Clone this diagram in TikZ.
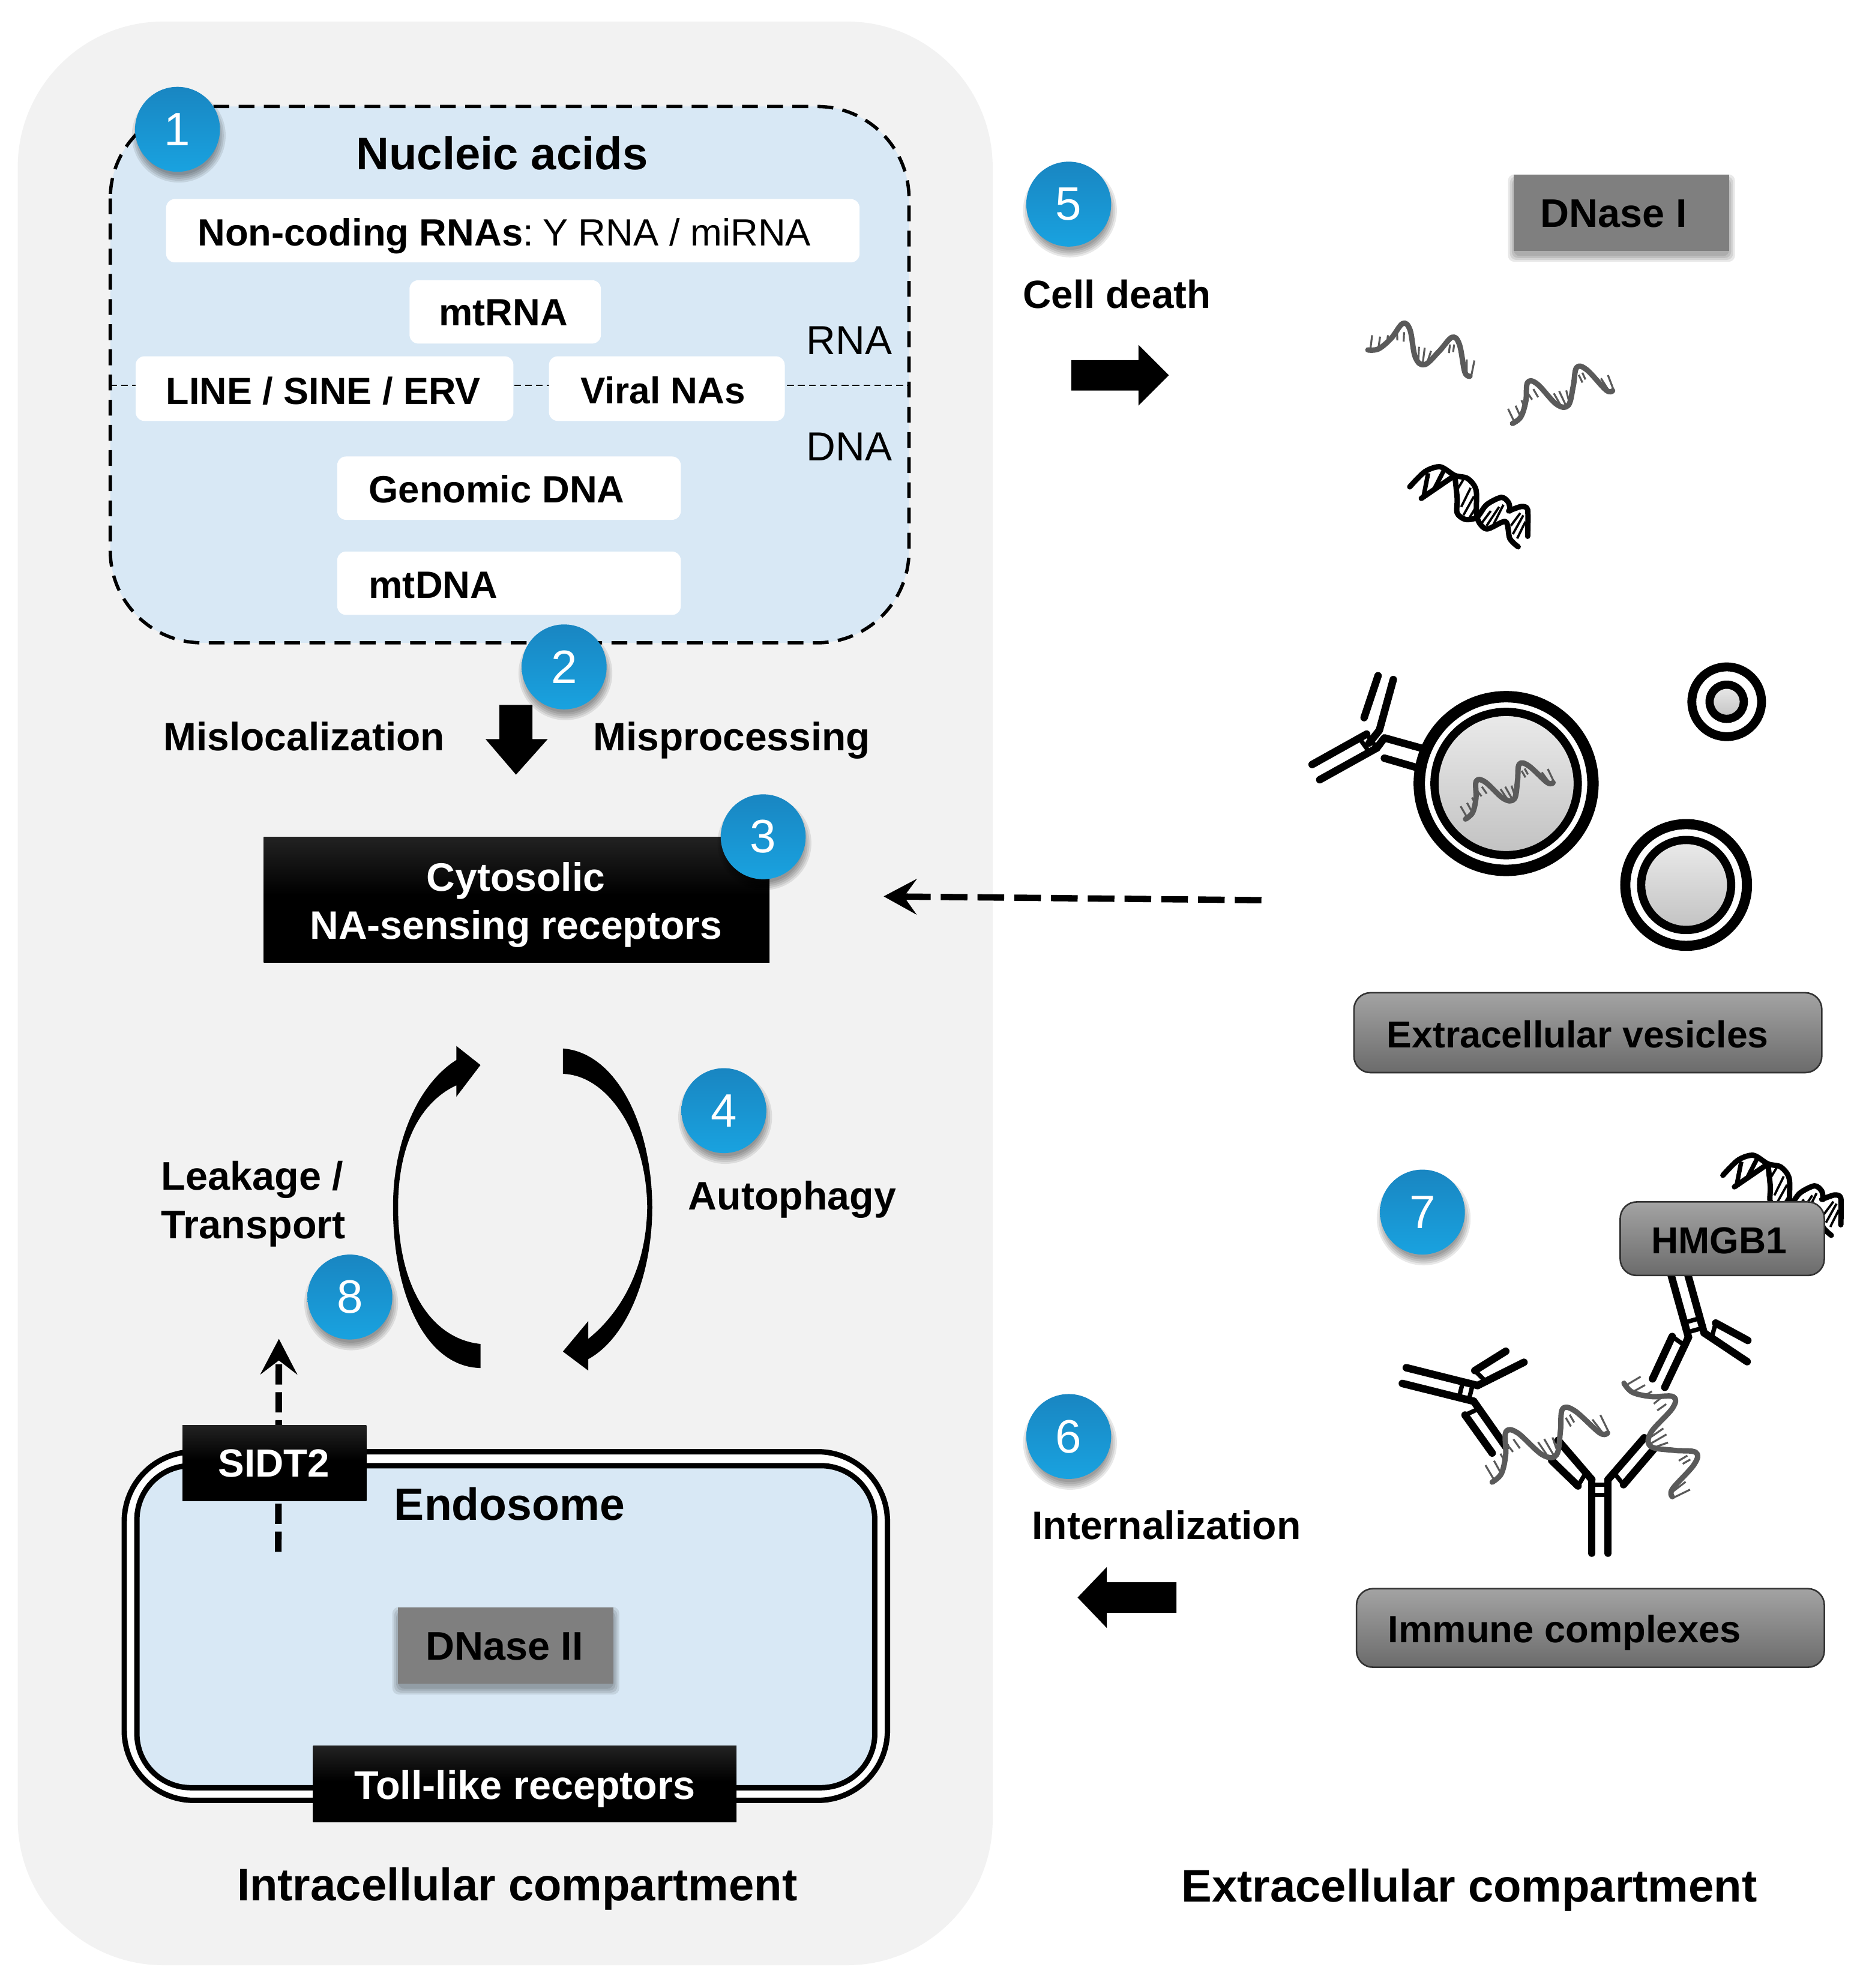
\documentclass[tikz,border=0pt]{standalone}
\usepackage{fontspec}
\setmainfont{Liberation Sans}
\usetikzlibrary{arrows.meta,calc}

% Font size given in drawing units (one unit is 0.02cm)
\newcommand{\fs}[1]{\pgfmathsetmacro\fspt{#1*0.569}\pgfmathsetmacro\fsbl{#1*0.569*1.21}\fontsize{\fspt pt}{\fsbl pt}\selectfont}

\definecolor{cellgrey}{HTML}{F2F2F2}
\definecolor{paleblue}{HTML}{D8E8F5}
\definecolor{ballblue}{HTML}{1C98DC}
\definecolor{rnagrey}{HTML}{5A5A5A}
\definecolor{flatgrey}{HTML}{7F7F7F}

\pgfdeclareverticalshading{blackfade}{100bp}{color(0bp)=(black); color(52bp)=(black); color(100bp)=(black!72!white)}

\tikzset{
  wbox/.style={fill=white,rounded corners=0.14cm,inner sep=0pt,outer sep=0pt},
  blackbox/.style={shade,shading=blackfade,inner sep=0pt,outer sep=0pt},
  greybox/.style={top color=black!36,bottom color=black!58,draw=black!80,line width=0.7pt,rounded corners=0.26cm,inner sep=0pt,outer sep=0pt},
  flatbox/.style={fill=flatgrey,inner sep=0pt,outer sep=0pt},
  % text is centred on the middle of its capitals, whatever descenders it has
  lab/.style={font=\fs{#1}\bfseries,inner sep=0pt,outer sep=0pt,text depth=0pt,text height=#1*0.0143cm},
  labthin/.style={font=\fs{#1},inner sep=0pt,outer sep=0pt,text depth=0pt,text height=#1*0.0143cm},
  ball/.style={circle,minimum size=1.34cm,inner sep=0pt,outer sep=0pt,top color=ballblue!88!black,bottom color=ballblue!90!cyan,text=white,font=\fs{37}},
  dasharrowh/.style={line width=0.1cm,dash pattern=on 0.42cm off 0.16cm,-{Stealth[length=0.52cm,width=0.56cm,inset=0.2cm]}},
  dasharrowv/.style={line width=0.105cm,dash pattern=on 0.32cm off 0.12cm,-{Stealth[length=0.56cm,width=0.58cm,inset=0.22cm]}},
  helixline/.style={line width=0.085cm,line join=round,line cap=round},
  helixrung/.style={line width=0.036cm,line cap=butt},
  yform/.style={line width=0.118cm,line cap=round},
}

% Empty box given by its name and corners
\newcommand{\bx}[6][]{%
  \pgfmathsetmacro\bw{(#4-#2)*0.02}\pgfmathsetmacro\bh{(#5-#3)*0.02}%
  \pgfmathsetmacro\bcx{(#2+#4)/2}\pgfmathsetmacro\bcy{(#3+#5)/2}%
  \node[#6,minimum width=\bw cm,minimum height=\bh cm] (#1) at (\bcx,\bcy) {};%
}

% Soft shadow under a rectangular box
\newcommand{\boxshadow}[4]{%
  \foreach \d in {0,1.5,3,4.5}{
    \fill[black,opacity=0.09,rounded corners=0.1cm] (#1-\d,#2-\d+4) rectangle (#3+\d,#4+\d+4);
  }%
}

% Numbered blue marker with its soft shadow
\newcommand{\marker}[4]{%
  \foreach \d in {0,1.5,3,4.5,6}{
    \fill[black,opacity=0.09] (#2+1,#3+5) circle[radius=(31+\d)*1];
  }%
  \node[ball] (#1) at (#2,#3) {#4};%
}

% Single-stranded nucleic acid drawn along its own axis
\newcommand{\rnastrand}[5][rnagrey]{%
  \begin{scope}[shift={(#2,#3)},rotate=#4,scale=#5]
    \draw[line width=0.085cm,line join=round,line cap=round,color=#1]
      plot[smooth,tension=0.6] coordinates {(0,0) (8.3,-.8) (18.3,-9.1) (27.4,-20.8) (33.2,-15.8) (37.4,5.8) (44.8,11.6) (56.4,.8) (66.4,-10) (72.2,-4.2) (76.4,17.4) (80.5,20.7)};
    \draw[line width=0.03cm,color=#1]
      (3.3,-11.6)--(2,-.8) (9.6,-10.5)--(8.3,-1.7) (15.8,-11.6)--(15,-5) (23,-13.3)--(23.2,-7.5)
      (28.5,-14)--(28.2,-6.6) (40.3,-2.5)--(39.8,7.5) (44.8,-1.7)--(43.2,10.8) (49.8,.8)--(47.3,8.3)
      (64.7,-4.2)--(63.9,2.5) (68,-4.2)--(67.2,1.7) (78,7.5)--(78,18) (84,8.3)--(81.3,21.6);
  \end{scope}%
}

% Double helix
\newcommand{\dnahelix}[2]{%
  \begin{scope}[shift={(#1,#2)}]
    \draw[helixline]
      plot[smooth,tension=0.5] coordinates {(0,0) (12,-12) (24,-15.8) (35.5,-9) (45.6,-6.6) (52.3,2.5) (53,24) (60.6,33.2) (75.5,27.4) (78.9,40.7) (85.5,47.3)};
    \draw[helixline]
      (9.1,9.1) -- (35.5,-9) plot[smooth,tension=0.5] coordinates {(35.5,-9) (37.4,9.1) (37.4,20.7) (44,25.7) (53,24) (60.6,14.1) (72.2,8.3) (78,12.5) (79,19)};
    \draw[helixline]
      plot[smooth,tension=0.4] coordinates {(78,19) (88,15.5) (93,18) (93,39)};
    \draw[line width=0.07cm] (10.8,8) -- (14.5,-10.8) (19,2.5) -- (27.4,-14);
    \draw[helixrung]
      (38.2,1) -- (42.3,-5.8) (40.6,15.8) -- (48,0.8) (42.3,22.4) -- (50.6,7.5) (47.3,24) -- (52.3,15.8)
      (56.4,29) -- (63.9,19) (60.6,30.7) -- (70.5,15.8) (65.5,30.7) -- (73.9,14.1)
      (79.7,30.7) -- (87.2,20.7) (81.3,37.3) -- (89.6,22.4) (84.7,40.7) -- (91.3,27.4);
  \end{scope}%
}

% Y-shaped antibody: the stem runs along +y from the junction
\newcommand{\antibody}[3]{%
  \begin{scope}[shift={(#1,#2)},rotate=#3]
    \draw[yform] (-6.4,0) -- (-6.4,58) (6.4,0) -- (6.4,58);
    \draw[yform,line cap=butt,line width=0.07cm] (-6.4,4) -- (6.4,4) (-6.4,12) -- (6.4,12);
    \draw[yform] (-6.4,0) -- (-33,-31) (-17.3,5) -- (-38,-15);
    \draw[yform] (6.4,0) -- (35,-33) (18.6,4) -- (42.5,-24);
    \draw[yform,line cap=butt,line width=0.07cm] (-11,-5.5) -- (-17.3,5) (11,-5.5) -- (18.6,4);
  \end{scope}%
}

% Vesicle made of two concentric membranes
\newcommand{\vesicle}[6]{%
  \draw[line width=#3 cm,fill=white] (#1,#2) circle[radius=#4];
  \draw[line width=#5 cm,top color=black!8,bottom color=black!24] (#1,#2) circle[radius=#6];
}

\begin{document}
\begin{tikzpicture}[x=0.02cm,y=-0.02cm]
\useasboundingbox (0,0) rectangle (1467,1568);
\fill[white] (0,0) rectangle (1467,1568);

% Intracellular compartment
\fill[cellgrey,rounded corners=2.3cm] (14,17) rectangle (783,1550);

% Nucleic acid panel
\fill[paleblue,rounded corners=1.45cm] (87,84) rectangle (717,507);
\draw[line width=1.5pt,dash pattern=on 7.1pt off 4.2pt,rounded corners=1.45cm] (87,84) rectangle (717,507);
\coordinate (rnaSplitL) at (87,304);
\coordinate (rnaSplitR) at (717,304);
\draw[line width=0.6pt,dash pattern=on 3.1pt off 1.8pt] (rnaSplitL) -- (rnaSplitR);

\bx[ncBox]{131}{157}{678}{207}{wbox}
\bx[mtrBox]{323}{221}{474}{271}{wbox}
\bx[lineBox]{107}{281}{405}{332}{wbox}
\bx[viralBox]{433}{281}{619}{332}{wbox}
\bx[gdBox]{266}{360}{537}{410}{wbox}
\bx[mtdBox]{266}{435}{537}{485}{wbox}

\node[lab=36] (naTitle) at (396,121) {Nucleic acids};
\node[anchor=west,labthin=30] (ncText) at (156,183) {\textbf{Non-coding RNAs}:\hspace{-0.08cm} Y RNA / miRNA};
\node[lab=30] (mtrText) at (397,246) {mtRNA};
\node[lab=29.8] (lineText) at (255,308) {LINE / SINE / ERV};
\node[lab=29.4] (viralText) at (523,308) {Viral NAs};
\node[anchor=west,lab=30] (gdText) at (291,386) {Genomic DNA};
\node[anchor=west,lab=30] (mtdText) at (291,461) {mtDNA};
\node[labthin=32] (rnaLabel) at (670,268) {RNA};
\node[labthin=32] (dnaLabel) at (670,352) {DNA};

% Step towards the cytosol
\node[anchor=west,lab=31.2] (misLoc) at (129,581) {Mislocalization};
\node[anchor=west,lab=31.2] (misProc) at (468,581) {Misprocessing};
\fill (394,556) -- (420,556) -- (420,583) -- (432,583) -- (407,611) -- (383,583) -- (394,583) -- cycle;

% Cytosolic receptors
\bx[cytoBox]{208}{660}{607}{759}{blackbox}
\node[text=white,font=\fs{31.3}\bfseries,align=center,inner sep=0pt] (cytoText) at (407,713.5) {Cytosolic\\NA-sensing receptors};

% Autophagy and leakage cycle
\fill (379,840) -- (360,825) -- (360,836) .. controls (330,855) and (310,900) .. (310,952)
  .. controls (310,1020) and (335,1078) .. (379,1079) -- (379,1060)
  .. controls (340,1056) and (314,1015) .. (314,952) .. controls (314,905) and (330,870) .. (360,856)
  -- (360,865) -- cycle;
\fill (444,827) .. controls (485,830) and (514,885) .. (514.5,952)
  .. controls (514.5,1005) and (495,1055) .. (464,1072) -- (464,1081) -- (444,1066) -- (464,1042) -- (464,1056)
  .. controls (490,1035) and (510,1000) .. (510.5,952) .. controls (510,895) and (480,848) .. (444,847) -- cycle;
\node[anchor=west,lab=31.4] (autoLabel) at (543,943) {Autophagy};
\node[font=\fs{31.5}\bfseries,inner sep=0pt,anchor=west,align=left] (leakLabel) at (127,949.5) {Leakage /\\Transport};

% Endosome with its double membrane
\draw[line width=0.085cm,fill=white,rounded corners=1.1cm] (98,1145) rectangle (700,1420);
\draw[line width=0.085cm,fill=paleblue,rounded corners=0.85cm] (108,1156) rectangle (690,1410);
\node[anchor=west,lab=35.6] (endoLabel) at (311,1186) {Endosome};

\coordinate (endoOut) at (219.5,1224);
\coordinate (leakEnd) at (220,1056);
\draw[dasharrowv] (endoOut) -- (leakEnd);

\bx[sidBox]{144}{1124}{289}{1184}{blackbox}
\node[lab=31,text=white] (sidText) at (216,1154) {SIDT2};
\bx[tollBox]{247}{1377}{581}{1437}{blackbox}
\node[lab=31.5,text=white] (tollText) at (414,1408) {Toll-like receptors};
\boxshadow{314}{1268}{484}{1328}
\bx[dn2Box]{314}{1268}{484}{1328}{flatbox}
\node[lab=31.5] (dn2Text) at (398,1298) {DNase II};

% Compartment captions
\node[lab=36] (intraCap) at (408,1486) {Intracellular compartment};
\node[lab=36] (extraCap) at (1159,1487) {Extracellular compartment};

% Cell death
\node[anchor=west,lab=31] (deathLabel) at (807,232) {Cell death};
\fill (845,284) -- (898,284) -- (898,272) -- (922,296) -- (898,320) -- (898,308) -- (845,308) -- cycle;
\boxshadow{1194}{138}{1364}{198}
\bx[dn1Box]{1194}{138}{1364}{198}{flatbox}
\node[lab=31.5] (dn1Text) at (1273,168) {DNase I};
\rnastrand{1079}{276}{0}{1}
\rnastrand{1193}{334}{32.5}{1}
\dnahelix{1112}{384}

% Extracellular vesicles and the antibody bound to the largest one
\draw[yform] (1035,603) -- (1078,579) (1041,615) -- (1086,590);
\draw[yform,line cap=butt,line width=0.07cm] (1078,579) -- (1086,590) (1072,582) -- (1080,593);
\draw[yform] (1087,533) -- (1076,566);
\draw[yform,line join=round] (1099,536) -- (1088,576) -- (1080,586);
\draw[yform,line join=round] (1086,590) -- (1092,582) -- (1128,592);
\draw[yform] (1092,598) -- (1123,607);
\vesicle{1188}{618}{0.18}{68.5}{0.13}{56.5}
\vesicle{1330}{698}{0.16}{48}{0.13}{35.5}
\vesicle{1362}{553.5}{0.14}{27.5}{0.13}{13.5}
\rnastrand{1156}{646}{37}{0.9}
\bx[evBox]{1068}{783}{1437}{846}{greybox}
\node[anchor=west,lab=29.6] (evText) at (1094,816) {Extracellular vesicles};

\coordinate (evOut) at (995,710);
\coordinate (cytoIn) at (697,707);
\draw[dasharrowh] (evOut) -- (cytoIn);

% Immune complexes
\dnahelix{1359}{927}
\antibody{1262}{1167}{0}
\antibody{1164}{1099}{-104}
\antibody{1338}{1053}{195.6}
\rnastrand{1177}{1169}{37.5}{1.19}
\rnastrand{1281}{1091}{-52.5}{1.17}
\bx[hmgBox]{1278}{948}{1439}{1006}{greybox}
\node[lab=29.6] (hmgText) at (1356,978) {HMGB1};
\bx[icBox]{1070}{1253}{1439}{1315}{greybox}
\node[anchor=west,lab=30] (icText) at (1095,1285) {Immune complexes};
\node[anchor=west,lab=31.3] (intLabel) at (814,1203) {Internalization};
\fill (850,1260) -- (873,1236) -- (873,1248) -- (928,1248) -- (928,1272) -- (873,1272) -- (873,1284) -- cycle;

% Numbered markers
\marker{m1}{140}{102}{1}
\marker{m2}{445}{526}{2}
\marker{m3}{602}{660}{3}
\marker{m4}{571}{876}{4}
\marker{m5}{843}{161}{5}
\marker{m6}{843}{1133}{6}
\marker{m7}{1122}{956}{7}
\marker{m8}{276}{1023}{8}
\end{tikzpicture}
\end{document}
